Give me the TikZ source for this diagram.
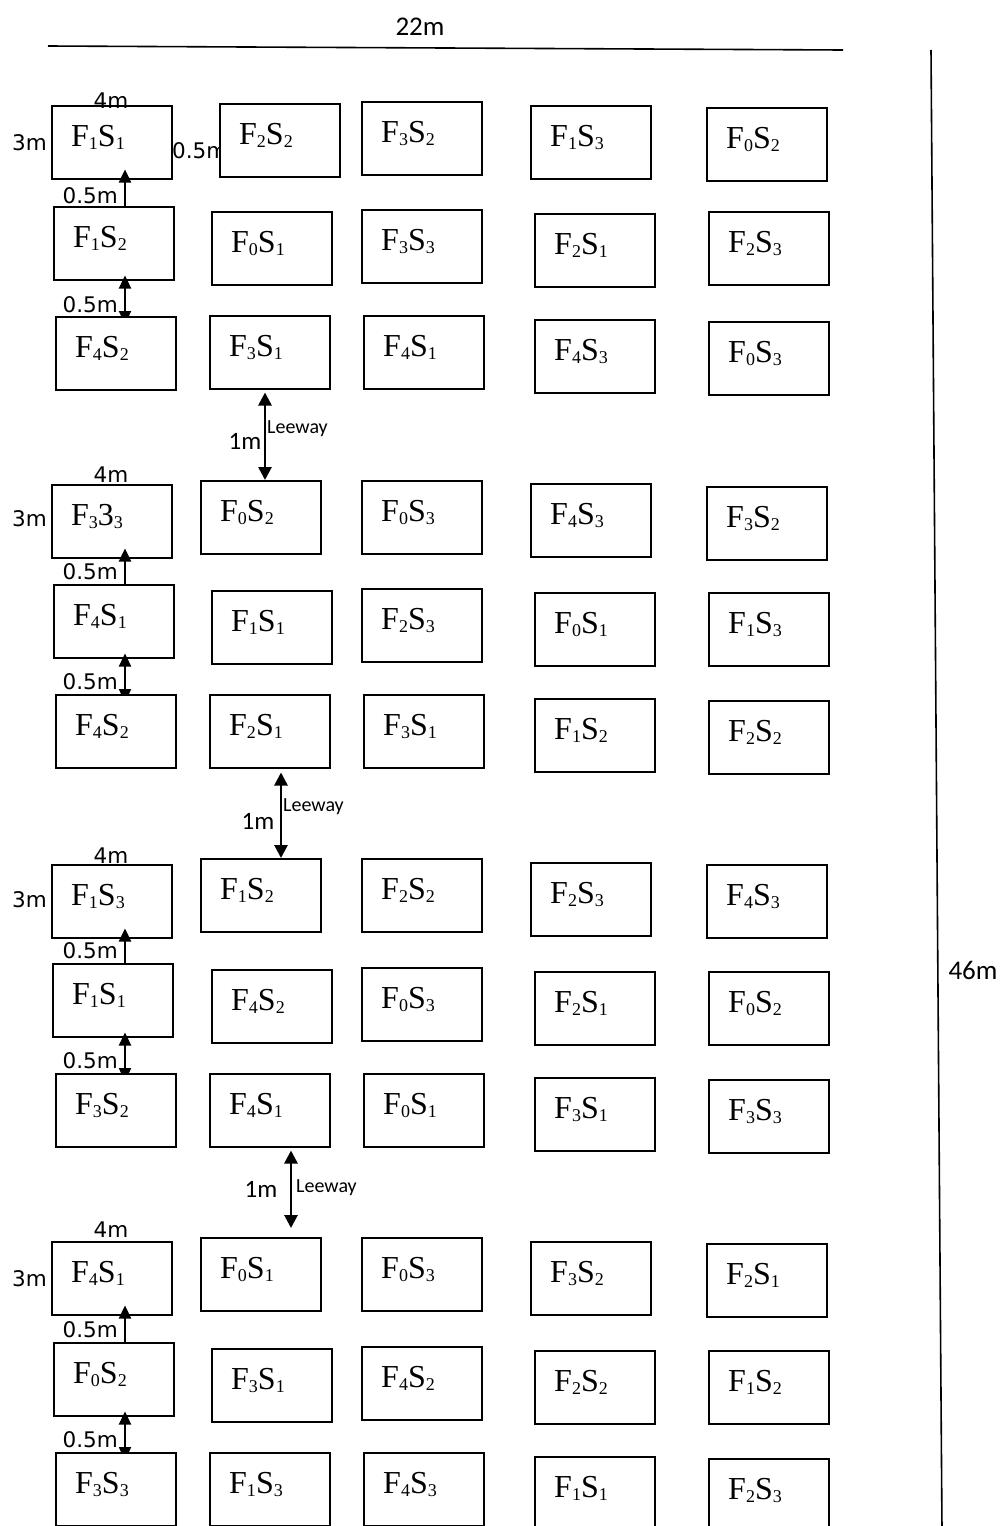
\documentclass[tikz,border=0pt]{standalone}
\usepackage{fontspec}
\setmainfont{Liberation Serif}
\newfontfamily\dvsfont{DejaVu Sans}
\newfontfamily\carlfont{Carlito}
\usetikzlibrary{arrows.meta,calc}
\pgfdeclarelayer{background}
\pgfsetlayers{background,main}
\newcommand\subn[1]{\raisebox{-3pt}{\fontsize{18}{18}\selectfont #1}}
\newcommand\fsl[2]{F\subn{#1}S\subn{#2}}
\newcommand\plotcell[5][plotbox]{%
  \node[#1] (#2) at (#3,#4) {};
  \node[plotlbl] (#2t) at ($(#2.north west)+(20,41)$) {#5};}
\tikzset{
  plotbox/.style={draw, line width=1.5pt, minimum width=120pt, minimum height=73pt, inner sep=0pt, anchor=north west},
  filledbox/.style={plotbox, fill=white},
  plotlbl/.style={anchor=base west, inner sep=0pt, font=\fontsize{32}{36}\selectfont},
  dimlbl/.style={inner sep=0pt, font=\dvsfont\fontsize{21.5}{24}\selectfont},
  bigm/.style={inner sep=0pt, anchor=base, font=\carlfont\fontsize{27}{30}\selectfont},
  onem/.style={inner sep=0pt, anchor=base, font=\carlfont\fontsize{25}{28}\selectfont},
  leelbl/.style={inner sep=0pt, anchor=base west, font=\carlfont\fontsize{20}{24}\selectfont},
  uparr/.style={line width=2.4pt, -{Triangle[width=12pt,length=13pt]}},
  dblarr/.style={line width=2.4pt, {Triangle[width=12pt,length=13pt]}-{Triangle[width=12pt,length=13pt]}},
  leearr/.style={line width=2.7pt, {Triangle[width=13pt,length=13pt]}-{Triangle[width=13pt,length=13pt]}},
  edge/.style={line width=1.6pt}
}
\begin{document}
\begin{tikzpicture}[x=1pt,y=-1pt]
\useasboundingbox (0,0) rectangle (1001,1526);
% outer dimension lines
\coordinate (tl) at (48,46);
\coordinate (tr) at (843,50);
\coordinate (rt) at (931,50);
\coordinate (rb) at (942,1530);
\draw[edge] (tl) -- (tr);
\draw[edge] (rt) -- (rb);
\node[bigm] (w22) at (420,35) {22m};
\node[bigm] (h46) at (973,979) {46m};
% ---------- block 1
\plotcell{b111}{51}{105}{\fsl{1}{1}}
\plotcell[filledbox]{b112}{219}{103}{\fsl{2}{2}}
\plotcell{b113}{361}{101}{\fsl{3}{2}}
\plotcell{b114}{530}{105}{\fsl{1}{3}}
\plotcell{b115}{706}{107}{\fsl{0}{2}}
\plotcell{b121}{53}{206}{\fsl{1}{2}}
\plotcell{b122}{211}{211}{\fsl{0}{1}}
\plotcell{b123}{361}{209}{\fsl{3}{3}}
\plotcell{b124}{534}{213}{\fsl{2}{1}}
\plotcell{b125}{708}{211}{\fsl{2}{3}}
\plotcell[filledbox]{b131}{55}{316}{\fsl{4}{2}}
\plotcell{b132}{209}{315}{\fsl{3}{1}}
\plotcell{b133}{363}{315}{\fsl{4}{1}}
\plotcell{b134}{534}{319}{\fsl{4}{3}}
\plotcell{b135}{708}{321}{\fsl{0}{3}}
% ---------- block 2
\plotcell{b211}{51}{484}{F\subn{3}3\subn{3}}
\plotcell{b212}{200}{480}{\fsl{0}{2}}
\plotcell{b213}{361}{480}{\fsl{0}{3}}
\plotcell{b214}{530}{483}{\fsl{4}{3}}
\plotcell{b215}{706}{486}{\fsl{3}{2}}
\plotcell{b221}{53}{584}{\fsl{4}{1}}
\plotcell{b222}{211}{590}{\fsl{1}{1}}
\plotcell{b223}{361}{588}{\fsl{2}{3}}
\plotcell{b224}{534}{592}{\fsl{0}{1}}
\plotcell{b225}{708}{592}{\fsl{1}{3}}
\plotcell[filledbox]{b231}{55}{694}{\fsl{4}{2}}
\plotcell{b232}{209}{694}{\fsl{2}{1}}
\plotcell{b233}{363}{694}{\fsl{3}{1}}
\plotcell{b234}{534}{698}{\fsl{1}{2}}
\plotcell{b235}{708}{700}{\fsl{2}{2}}
% ---------- block 3
\plotcell{b311}{51}{864}{\fsl{1}{3}}
\plotcell{b312}{200}{858}{\fsl{1}{2}}
\plotcell{b313}{361}{858}{\fsl{2}{2}}
\plotcell{b314}{530}{862}{\fsl{2}{3}}
\plotcell{b315}{706}{864}{\fsl{4}{3}}
\plotcell{b321}{52}{963}{\fsl{1}{1}}
\plotcell{b322}{211}{969}{\fsl{4}{2}}
\plotcell{b323}{361}{967}{\fsl{0}{3}}
\plotcell{b324}{534}{971}{\fsl{2}{1}}
\plotcell{b325}{708}{971}{\fsl{0}{2}}
\plotcell[filledbox]{b331}{55}{1073}{\fsl{3}{2}}
\plotcell{b332}{209}{1073}{\fsl{4}{1}}
\plotcell{b333}{363}{1073}{\fsl{0}{1}}
\plotcell{b334}{534}{1077}{\fsl{3}{1}}
\plotcell{b335}{708}{1079}{\fsl{3}{3}}
% ---------- block 4
\plotcell{b411}{51}{1241}{\fsl{4}{1}}
\plotcell{b412}{200}{1237}{\fsl{0}{1}}
\plotcell{b413}{361}{1237}{\fsl{0}{3}}
\plotcell{b414}{530}{1241}{\fsl{3}{2}}
\plotcell{b415}{706}{1243}{\fsl{2}{1}}
\plotcell{b421}{53}{1342}{\fsl{0}{2}}
\plotcell{b422}{211}{1348}{\fsl{3}{1}}
\plotcell{b423}{361}{1346}{\fsl{4}{2}}
\plotcell{b424}{534}{1350}{\fsl{2}{2}}
\plotcell{b425}{708}{1350}{\fsl{1}{2}}
\plotcell[filledbox]{b431}{55}{1452}{\fsl{3}{3}}
\plotcell{b432}{209}{1452}{\fsl{1}{3}}
\plotcell{b433}{363}{1452}{\fsl{4}{3}}
\plotcell{b434}{534}{1456}{\fsl{1}{1}}
\plotcell{b435}{708}{1458}{\fsl{2}{3}}
% ---------- dimension labels
\node[dimlbl, anchor=base] (w1) at (111,108) {4m};
\node[dimlbl, anchor=base] (w2) at (111,482) {4m};
\node[dimlbl, anchor=base] (w3) at (111,863) {4m};
\node[dimlbl, anchor=base] (w4) at (111,1237) {4m};
\node[dimlbl, anchor=base east] (h1) at (47,150) {3m};
\node[dimlbl, anchor=base east] (h2) at (47,526) {3m};
\node[dimlbl, anchor=base east] (h3) at (47,907) {3m};
\node[dimlbl, anchor=base east] (h4) at (47,1286) {3m};
\node[dimlbl, anchor=base east] (g1a) at (118,203) {0.5m};
\node[dimlbl, anchor=base east] (g1b) at (118,312) {0.5m};
\node[dimlbl, anchor=base east] (g2a) at (118,579) {0.5m};
\node[dimlbl, anchor=base east] (g2b) at (118,689) {0.5m};
\node[dimlbl, anchor=base east] (g3a) at (118,958) {0.5m};
\node[dimlbl, anchor=base east] (g3b) at (118,1068) {0.5m};
\node[dimlbl, anchor=base east] (g4a) at (118,1337) {0.5m};
\node[dimlbl, anchor=base east] (g4b) at (118,1447) {0.5m};
% leeway labels
\node[onem] (m1) at (245,449) {1m};
\node[onem] (m2) at (258,829) {1m};
\node[onem] (m3) at (261,1197) {1m};
\node[leelbl] (lw1) at (267,433) {Leeway};
\node[leelbl] (lw2) at (283,811) {Leeway};
\node[leelbl] (lw3) at (296,1192) {Leeway};
% ---------- connectors
\coordinate (ax) at (125,0);
\coordinate (l1) at (265,0);
\coordinate (l2) at (281,0);
\coordinate (l3) at (291,0);
\begin{pgfonlayer}{background}
\node[dimlbl, anchor=base west] (gh) at (172,158) {0.5m};
\draw[uparr, shorten >=-10pt] (b121.north -| ax) -- (b111.south -| ax);
\draw[dblarr, shorten <=-8pt, shorten >=-5pt] (b131.north -| ax) -- (b121.south -| ax);
\draw[uparr, shorten >=-10pt] (b221.north -| ax) -- (b211.south -| ax);
\draw[dblarr, shorten <=-8pt, shorten >=-5pt] (b231.north -| ax) -- (b221.south -| ax);
\draw[uparr, shorten >=-10pt] (b321.north -| ax) -- (b311.south -| ax);
\draw[dblarr, shorten <=-8pt, shorten >=-5pt] (b331.north -| ax) -- (b321.south -| ax);
\draw[uparr, shorten >=-10pt] (b421.north -| ax) -- (b411.south -| ax);
\draw[dblarr, shorten <=-8pt, shorten >=-5pt] (b431.north -| ax) -- (b421.south -| ax);
\draw[leearr, shorten <=3pt] (b132.south -| l1) -- (b212.north -| l1);
\draw[leearr, shorten <=4pt] (b232.south -| l2) -- (b312.north -| l2);
\draw[leearr, shorten <=3pt, shorten >=9pt] (b332.south -| l3) -- (b412.north -| l3);
\end{pgfonlayer}
\end{tikzpicture}
\end{document}
